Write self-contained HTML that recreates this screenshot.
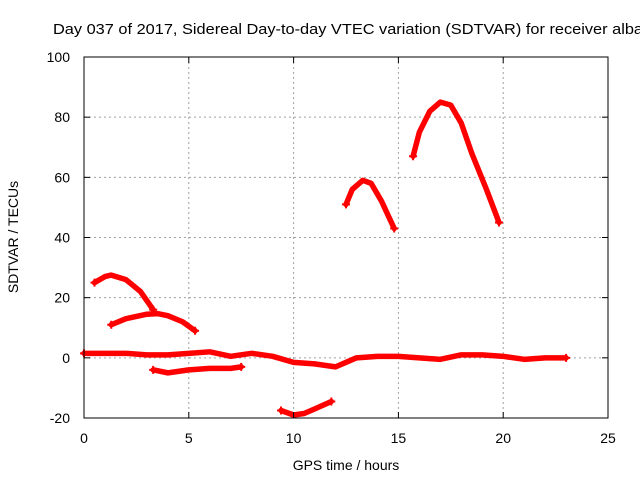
<!DOCTYPE html>
<html><head><meta charset="utf-8">
<style>
body{margin:0;background:#fff;width:640px;height:480px;overflow:hidden}
svg{display:block;font-family:"Liberation Sans",sans-serif}
</style></head>
<body>
<svg id="chart" width="640" height="480" viewBox="0 0 640 480" xmlns="http://www.w3.org/2000/svg">
<text x="53" y="34" font-size="15" textLength="590" lengthAdjust="spacingAndGlyphs" fill="#000">Day 037 of 2017, Sidereal Day-to-day VTEC variation (SDTVAR) for receiver alba</text>
<g id="grid"></g>
<g id="series"></g>
<rect x="84" y="57" width="524" height="361" fill="none" stroke="#000" stroke-width="1"/>
<g id="ticks"></g>
<text x="346" y="470" font-size="14" text-anchor="middle">GPS time / hours</text>
<text transform="translate(18,237) rotate(-90)" font-size="14" text-anchor="middle">SDTVAR / TECUs</text>
</svg>
<script>
const xTicks=[0,5,10,15,20,25];
const yTicks=[-20,0,20,40,60,80,100];
const arc1=[[0.5,25],[1,27],[1.3,27.5],[2,26],[2.7,22],[3.3,16]];
const arc2=[[1.3,11],[2,13],[3,14.5],[3.5,14.7],[4,14],[4.7,12],[5.3,9]];
const arc3=[[3.3,-4],[4,-5],[5,-4],[6,-3.5],[7,-3.5],[7.5,-3]];
const arc4=[[0,1.5],[1,1.5],[2,1.5],[3,1],[4,1],[5,1.5],[6,2],[7,0.5],[8,1.5],[9,0.5],[10,-1.5],[11,-2],[12,-3],[13,0],[14,0.5],[15,0.5],[16,0],[17,-0.5],[18,1],[19,1],[20,0.5],[21,-0.5],[22,0],[23,0]];
const arc5=[[9.4,-17.5],[10,-19],[10.5,-18.5],[11,-17],[11.8,-14.5]];
const arc6=[[12.5,51],[12.8,56],[13.3,59],[13.7,58],[14.2,52],[14.8,43]];
const arc7=[[15.7,67],[16,75],[16.5,82],[17,85],[17.5,84],[18,78],[18.5,68],[19.2,56],[19.8,45]];
const arcs=[arc1,arc2,arc3,arc4,arc5,arc6,arc7];
const NS="http://www.w3.org/2000/svg";
const X0=84,X1=608,Y0=418,Y1=57;
const xs=v=>X0+(v-0)/25*(X1-X0);
const ys=v=>Y0-(v+20)/120*(Y0-Y1);
const grid=document.getElementById('grid'),ticks=document.getElementById('ticks'),ser=document.getElementById('series');
function mk(t,a,p){const e=document.createElementNS(NS,t);for(const k in a)e.setAttribute(k,a[k]);p.appendChild(e);return e;}
xTicks.forEach(v=>{
  const x=xs(v);
  if(v>0&&v<25){const g=mk('line',{x1:x,x2:x,y1:Y1,y2:Y0,stroke:'#a0a0a0','stroke-dasharray':'2,3'},grid);
  
  }
  mk('line',{x1:x,x2:x,y1:Y0,y2:Y0-6,stroke:'#000'},ticks);
  mk('line',{x1:x,x2:x,y1:Y1,y2:Y1+6,stroke:'#000'},ticks);
  const t=mk('text',{x:x,y:443,'font-size':14,'text-anchor':'middle'},ticks);t.textContent=v;
  
  
});
yTicks.forEach(v=>{
  const y=ys(v);
  if(v>-20&&v<100){const g=mk('line',{x1:X0,x2:X1,y1:y,y2:y,stroke:'#a0a0a0','stroke-dasharray':'2,3'},grid);
  
  }
  mk('line',{x1:X0,x2:X0+6,y1:y,y2:y,stroke:'#000'},ticks);
  mk('line',{x1:X1,x2:X1-6,y1:y,y2:y,stroke:'#000'},ticks);
  const t=mk('text',{x:70,y:y+5,'font-size':14,'text-anchor':'end'},ticks);t.textContent=v;
  
  
});
arcs.forEach((a,i)=>{
  const p=mk('polyline',{points:a.map(d=>xs(d[0])+','+ys(d[1])).join(' '),fill:'none',stroke:'#ff0000','stroke-width':5.5,'stroke-linejoin':'round','stroke-linecap':'round'},ser);
  
  
  [a[0],a[a.length-1]].forEach(d=>{
    mk('path',{d:`M${xs(d[0])-4},${ys(d[1])}h8M${xs(d[0])},${ys(d[1])-4}v8`,stroke:'#ff0000','stroke-width':2},ser);
  });
});
</script>
</body></html>
